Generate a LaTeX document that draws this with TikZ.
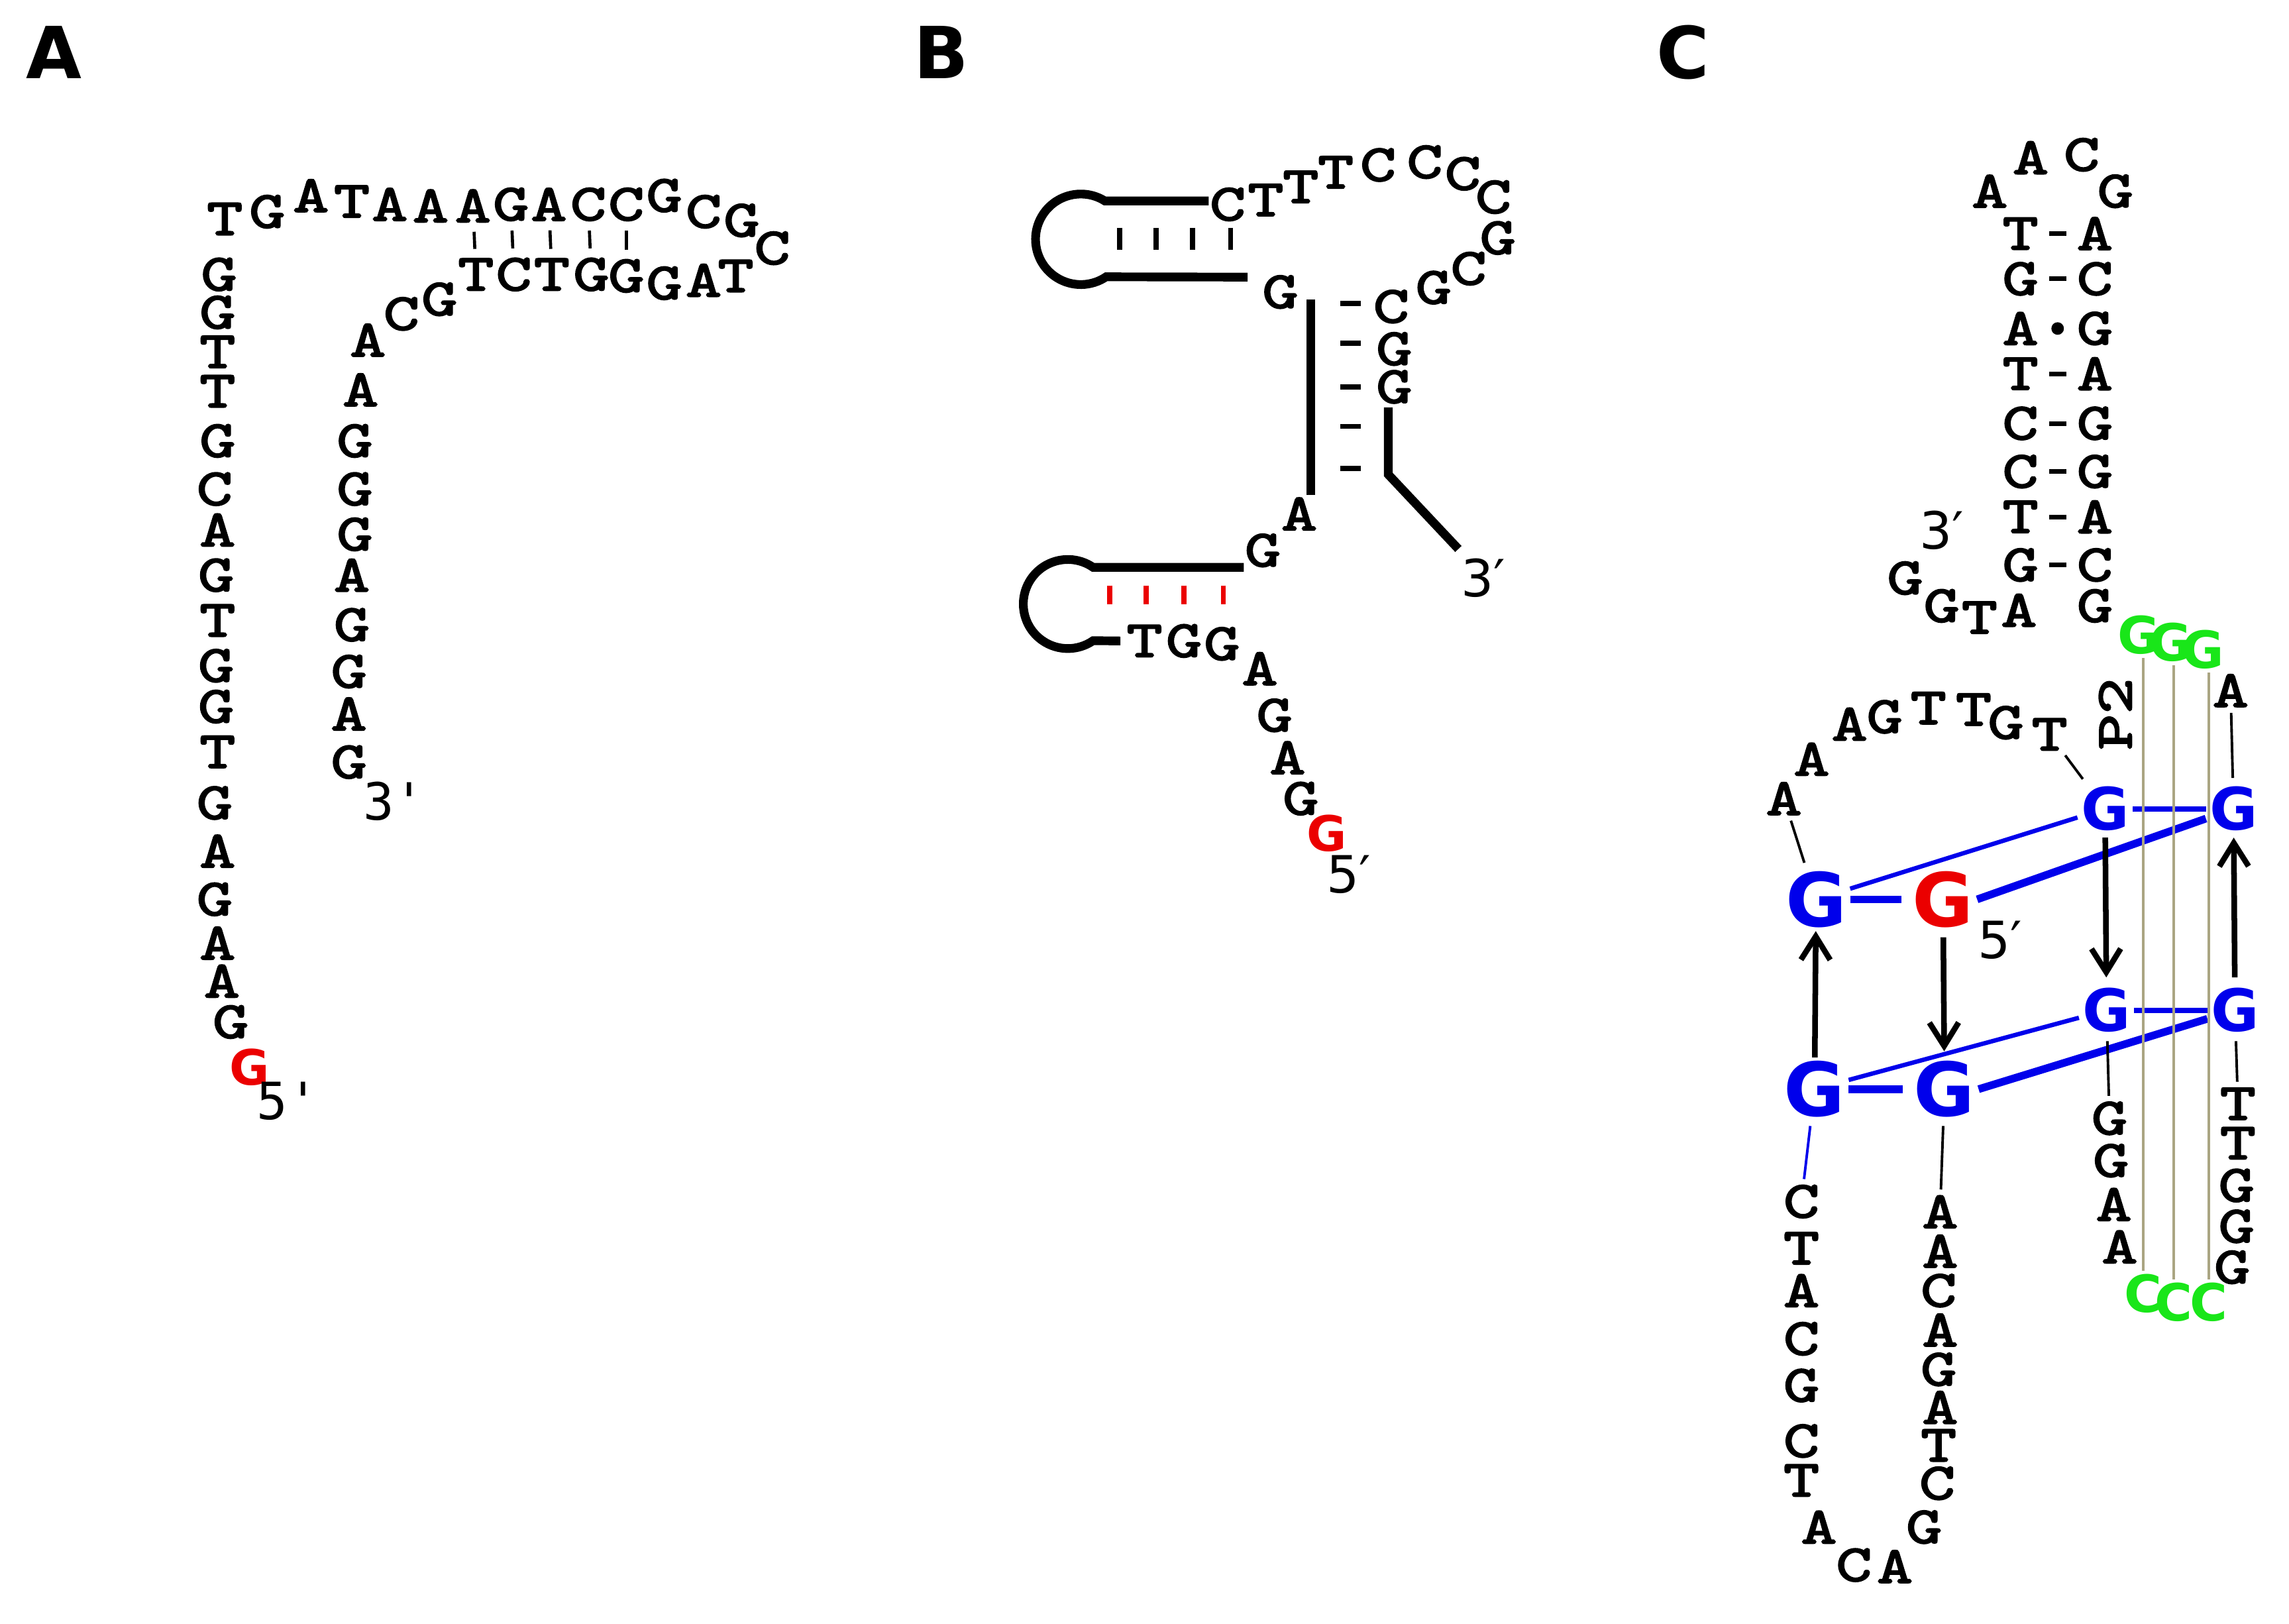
\documentclass[tikz,border=0pt]{standalone}
\usepackage{fontspec}
\setmainfont{DejaVu Sans}
\newfontfamily\dvmono{DejaVu Sans Mono}
\newfontfamily\ntfam{Latin Modern Mono}[FakeBold=3, FakeStretch=1.32]
\usepackage{tikz}
\usetikzlibrary{arrows.meta, calc}
\definecolor{QuadBlue}{RGB}{0,0,235}
\definecolor{QuadRed}{RGB}{235,0,0}
\definecolor{StemGreen}{RGB}{25,230,25}
\definecolor{PairOlive}{RGB}{170,165,130}

\begin{document}
\begin{tikzpicture}[x=0.1mm, y=-0.1mm,
  nt/.style={font=\ntfam\fontsize{10.1}{10.1}\selectfont, inner sep=0pt},
  rg/.style={font=\bfseries\fontsize{9.5}{9.5}\selectfont, text=QuadRed, inner sep=0pt},
  qbig/.style={font=\bfseries\fontsize{14.5}{14.5}\selectfont, text=QuadBlue, inner sep=0.5pt},
  qsml/.style={font=\bfseries\fontsize{11.4}{11.4}\selectfont, text=QuadBlue, inner sep=0.5pt},
  gn/.style={font=\bfseries\fontsize{10}{10}\selectfont, text=StemGreen, inner sep=0pt},
  pm/.style={font=\fontsize{10}{10}\selectfont, inner sep=0pt},
  pa/.style={font=\dvmono\fontsize{10}{10}\selectfont, inner sep=0pt},
  plab/.style={font=\bfseries\fontsize{14}{14}\selectfont, inner sep=0pt},
  bk/.style={line width=1.7pt},
  tk/.style={line width=1pt},
  bp/.style={line width=0.6pt, shorten >=1.7pt, shorten <=1.7pt},
  st/.style={line width=0.9pt, shorten >=1.9pt, shorten <=1.9pt},
  lk/.style={line width=0.5pt, shorten >=1pt, shorten <=1pt},
  qw/.style={QuadBlue, line width=1.5pt},
  qn/.style={QuadBlue, line width=0.85pt},
  qm/.style={QuadBlue, line width=1pt},
  arr/.style={-{Straight Barb[length=1.6mm,width=2mm]}, line width=1.1pt},
  ol/.style={PairOlive, line width=0.5pt, shorten >=0.5pt, shorten <=0.5pt}
]
\useasboundingbox (0,0) rectangle (1568,1112);

% panel labels
\node[plab] (labA) at (37,36) {A};
\node[plab] (labB) at (645,36) {B};
\node[plab] (labC) at (1153,36) {C};

% ---- A ----
\node[rg] (a0) at (171,731) {G};
\foreach \t/\x/\y [count=\i] in {G/158/700, A/152/672, A/149/646, G/147/616,
    A/149/583, G/147/550, T/149/515, G/148/484, G/148/456, T/149/425, G/148/394,
    A/149/363, C/147/335, G/149/302, T/149/268, T/149/241, G/149/214, G/150/188,
    T/154/150, G/183/145, A/213/134, T/241/138, A/267/140, A/295/141, A/324/141,
    G/350/140, A/376/140, C/403/140, C/429/140, G/455/134, C/482/145, G/508/151,
    C/529/170, T/504/189, A/482/192, G/455/194, G/429/189, G/405/188, T/378/188,
    C/352/188, T/326/188, G/301/205, C/275/215, A/252/233, A/247/267, G/243/302,
    G/243/335, G/243/366, A/241/394, G/241/428, G/239/460, A/239/489, G/239/522}
  \node[nt] (a\i) at (\x,\y) {\t};
\node[pa] (a3p) at (270,549) {3\textquotesingle};
\node[pa] (a5p) at (197,754) {5\textquotesingle};
\foreach \u/\v in {25/41, 26/40, 27/39, 28/38, 29/37}
  \draw[bp] (a\u) -- (a\v);

% ---- B ----
\node[rg] (b0) at (909,571) {G};
\foreach \t/\x/\y [count=\i] in {G/891/547, A/882/519, G/873/490, A/863/458,
    G/837/441, G/811/439, T/784/439, G/865/377, A/890/352, G/877/200,
    C/841/140, T/867/137, T/891/128, T/915/118, C/944/113, C/976/111,
    C/1002/119, C/1023/135, G/1026/163, C/1006/184, G/982/197, C/953/210,
    G/955/239, G/955/265}
  \node[nt] (b\i) at (\x,\y) {\t};
\node[pm] (b3p) at (1016,396) {3′};
\node[pm] (b5p) at (924,599) {5′};
% hairpins
\draw[bk] (828,137.6) -- (756.8,137.6) arc[start angle=58, end angle=304, radius=3.1mm] -- (854.6,189.8);
\draw[bk] (852,388.6) -- (748.8,388.6) arc[start angle=55.4, end angle=304.6, radius=3.05mm] -- (767.5,439);
\foreach \x in {767,792,817,843}
  \draw[tk] (\x,156) -- (\x,171);
\foreach \x in {760,785,811,838}
  \draw[tk, QuadRed] (\x,401) -- (\x,414);
\draw[bk] (898,205) -- (898,339);
\foreach \y in {208,235,265,292,321}
  \draw[tk] (918,\y) -- (932,\y);
\draw[bk] (951,279) -- (951,325) -- (999,376);

% ---- C ----
% hairpin stem
\foreach \l/\r/\y [count=\i] in {T/A/160, G/C/191, A/G/225, T/A/256,
    C/G/290, C/G/323, T/A/354, G/C/387} {
  \node[nt] (cl\i) at (1384,\y) {\l};
  \node[nt] (cr\i) at (1435,\y) {\r};
}
\foreach \i in {1,2,4,5,6,7,8}
  \draw[st] (cl\i) -- (cr\i);
\fill ($(cl3)!0.5!(cr3)$) circle[radius=0.43mm];
\foreach \t/\x/\y [count=\i] in {A/1363/131, A/1391/108, C/1426/106, G/1449/131}
  \node[nt] (ct\i) at (\x,\y) {\t};
\foreach \t/\x/\y [count=\i] in {G/1435/415, A/1383/418, T/1356/423, G/1330/415, G/1305/396}
  \node[nt] (cs\i) at (\x,\y) {\t};
\node[pm] (c3p) at (1330,363) {3′};
% P2
\node[gn] (gg1) at (1465,435) {G};
\node[gn] (gg2) at (1487,440) {G};
\node[gn] (gg3) at (1509,445) {G};
\node[nt] (cA) at (1528,473) {A};
\node[nt, rotate=90] (p2) at (1449,489) {P2};
\foreach \t/\x/\y [count=\i] in {A/1222/547, A/1241/520, A/1267/496, G/1291/491,
    T/1321/485, T/1352/486, G/1374/495, T/1404/503}
  \node[nt] (cu\i) at (\x,\y) {\t};
% quadruplex
\node[qbig] (qa) at (1244,616) {G};
\node[qbig, text=QuadRed] (qb) at (1331,616) {G};
\node[qsml] (qc) at (1442,554) {G};
\node[qsml] (qd) at (1530,554) {G};
\node[qbig] (qe) at (1243,746) {G};
\node[qbig] (qf) at (1332,746) {G};
\node[qsml] (qg) at (1443,692) {G};
\node[qsml] (qh) at (1531,692) {G};
\node[pm] (c5p) at (1370,644) {5′};
\draw[qw, shorten >=1.5pt] (qa) -- (qb);
\draw[qn] (qa) -- (qc);
\draw[qw] (qb.east) -- (qd);
\draw[qm] (qc) -- (qd);
\draw[qw, shorten >=1.5pt] (qe) -- (qf);
\draw[qn] (qe) -- (qg);
\draw[qw] (qf.east) -- (qh);
\draw[qm] (qg) -- (qh);
\draw[arr] (qe) -- (qa);
\draw[arr, shorten >=1.2pt, shorten <=1.2pt] (qb) -- (qf);
\draw[arr, shorten >=1.4pt, shorten <=0.6pt] (qc) -- (qg);
\draw[arr, shorten >=0.6pt, shorten <=1.4pt] (qh) -- (qd);
% strands below
\foreach \t/\x/\y [count=\i] in {G/1445/766, G/1446/795, A/1448/825, A/1452/854}
  \node[nt] (cw\i) at (\x,\y) {\t};
\node[gn] (gc1) at (1468,886) {C};
\node[gn] (gc2) at (1489,892) {C};
\node[gn] (gc3) at (1513,892) {C};
\foreach \t/\x/\y [count=\i] in {T/1533/756, T/1533/783, G/1532/812, G/1532/840, G/1529/868}
  \node[nt] (ce\i) at (\x,\y) {\t};
\foreach \t/\x/\y [count=\i] in {C/1234/823, T/1234/855, A/1234/884, C/1234/917,
    G/1234/949, C/1234/987, T/1234/1014, A/1246/1046, C/1270/1072, A/1298/1073,
    G/1318/1046, C/1327/1016, T/1328/990, A/1329/964, G/1328/938, A/1329/911,
    C/1328/884, A/1329/857, A/1329/830}
  \node[nt] (cb\i) at (\x,\y) {\t};
% links
\draw[lk] (cu8) -- (qc);
\draw[lk] (cu1) -- (qa);
\draw[lk] (cA) -- (qd);
\draw[lk] (qg) -- (cw1);
\draw[lk] (qh) -- (ce1);
\draw[lk, QuadBlue] (qe) -- (cb1);
\draw[lk] (qf) -- (cb19);
% P2 pairs
\foreach \i in {1,2,3}
  \draw[ol] (gc\i.north |- gg\i.south) -- (gc\i.north);
\end{tikzpicture}
\end{document}
